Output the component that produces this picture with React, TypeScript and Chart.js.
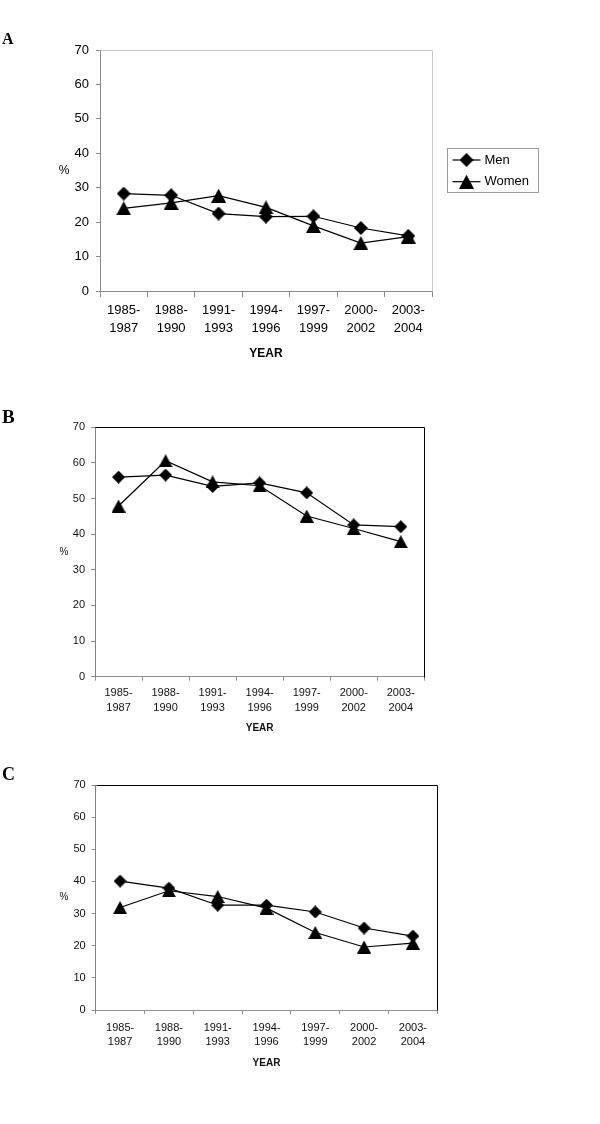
import React, { useEffect, useRef } from 'react';
import { Chart, registerables } from 'chart.js';

Chart.register(...registerables);

// ---- data ----
const categories: string[][] = [
  ['1985-', '1987'],
  ['1988-', '1990'],
  ['1991-', '1993'],
  ['1994-', '1996'],
  ['1997-', '1999'],
  ['2000-', '2002'],
  ['2003-', '2004'],
];
const seriesNames = ['Men', 'Women'];
const yMin = 0;
const yMax = 70;
const yStep = 10;

const menA = [28.3, 27.8, 22.5, 21.6, 21.7, 18.3, 16.0];
const womenA = [24.0, 25.6, 27.7, 24.3, 18.9, 13.9, 15.8];
const menB = [56.0, 56.6, 53.4, 54.4, 51.6, 42.6, 42.1];
const womenB = [47.9, 60.6, 54.7, 53.6, 45.1, 41.6, 37.9];
const menC = [40.1, 37.9, 32.6, 32.6, 30.5, 25.5, 23.0];
const womenC = [31.9, 37.1, 35.3, 31.7, 24.1, 19.6, 20.8];

const FONT = '"Liberation Sans", Arial, sans-serif';

function makeMarker(shape: 'diamond' | 'triangle', w: number, h: number): HTMLCanvasElement {
  const c = document.createElement('canvas');
  c.width = w;
  c.height = h;
  const ctx = c.getContext('2d')!;
  ctx.fillStyle = '#000';
  ctx.beginPath();
  if (shape === 'diamond') {
    ctx.moveTo(w / 2, 0);
    ctx.lineTo(w, h / 2);
    ctx.lineTo(w / 2, h);
    ctx.lineTo(0, h / 2);
  } else {
    ctx.moveTo(w / 2, 0);
    ctx.lineTo(w, h);
    ctx.lineTo(0, h);
  }
  ctx.closePath();
  ctx.fill();
  return c;
}

type Panel = {
  letter: string;
  letterSize: number;
  letterBaseline: number;
  canvasTop: number;
  canvasHeight: number;
  area: { left: number; top: number; right: number; bottom: number };
  men: number[];
  women: number[];
  diamondSize: number;
  triW: number;
  triH: number;
  tickFont: number;
  tickLineHeight: number;
  xTickLen: number;
  xPad: number;
  yTickLen: number;
  yPad: number;
  yearSize: number;
  yearOffset: number;
  pctSize: number;
  frameColor: string;
  leftColor: string;
  bottomColor: string;
  tickColor: string;
  textColor: string;
  legend: boolean;
};

const panels: Panel[] = [
  {
    letter: 'A', letterSize: 16, letterBaseline: 44, canvasTop: 0, canvasHeight: 370,
    area: { left: 100, top: 50, right: 432, bottom: 291 },
    men: menA, women: womenA, diamondSize: 14, triW: 15, triH: 14,
    tickFont: 13, tickLineHeight: 1.4, xTickLen: 6, xPad: 4,
    yTickLen: 4, yPad: 7, yearSize: 12, yearOffset: 62.5, pctSize: 12,
    frameColor: '#c8c8c8', leftColor: '#8a8a8a', bottomColor: '#8a8a8a', tickColor: '#8a8a8a',
    textColor: '#000', legend: true,
  },
  {
    letter: 'B', letterSize: 19, letterBaseline: 52.5, canvasTop: 370, canvasHeight: 370,
    area: { left: 95, top: 57.3, right: 424.3, bottom: 306.7 },
    men: menB, women: womenB, diamondSize: 13, triW: 14, triH: 13,
    tickFont: 11, tickLineHeight: 1.36, xTickLen: 4, xPad: 5,
    yTickLen: 4, yPad: 6, yearSize: 10, yearOffset: 51.3, pctSize: 10,
    frameColor: '#000', leftColor: '#808080', bottomColor: '#909090', tickColor: '#909090',
    textColor: '#111', legend: false,
  },
  {
    letter: 'C', letterSize: 18, letterBaseline: 40, canvasTop: 740, canvasHeight: 384,
    area: { left: 95.7, top: 45, right: 437.3, bottom: 270 },
    men: menC, women: womenC, diamondSize: 13, triW: 14, triH: 13,
    tickFont: 11, tickLineHeight: 1.36, xTickLen: 4, xPad: 6,
    yTickLen: 4, yPad: 6, yearSize: 10, yearOffset: 53, pctSize: 10,
    frameColor: '#000', leftColor: '#808080', bottomColor: '#909090', tickColor: '#909090',
    textColor: '#111', legend: false,
  },
];

function PanelChart({ p }: { p: Panel }) {
  const ref = useRef<HTMLCanvasElement | null>(null);
  useEffect(() => {
    const canvas = ref.current!;
    const W = 600;
    const H = p.canvasHeight;
    const diamond = makeMarker('diamond', p.diamondSize, p.diamondSize);
    const triangle = makeMarker('triangle', p.triW, p.triH);

    const extras = {
      id: 'extras',
      beforeDatasetsDraw(chart: any) {
        const { ctx, chartArea: a } = chart;
        ctx.save();
        ctx.strokeStyle = p.frameColor;
        ctx.lineWidth = 1;
        ctx.beginPath();
        ctx.moveTo(Math.round(a.left) + 0.5, Math.round(a.top) + 0.5);
        ctx.lineTo(Math.round(a.right) + 0.5, Math.round(a.top) + 0.5);
        ctx.lineTo(Math.round(a.right) + 0.5, Math.round(a.bottom) + 0.5);
        ctx.stroke();
        ctx.restore();
      },
      afterDraw(chart: any) {
        const { ctx, chartArea: a } = chart;
        ctx.save();
        // panel letter
        ctx.fillStyle = '#000';
        ctx.font = `bold ${p.letterSize}px "Liberation Serif", "Times New Roman", serif`;
        ctx.textAlign = 'left';
        ctx.textBaseline = 'alphabetic';
        ctx.fillText(p.letter, 2, p.letterBaseline);
        // % label
        ctx.fillStyle = p.textColor;
        ctx.font = `${p.pctSize}px ${FONT}`;
        ctx.textAlign = 'center';
        ctx.textBaseline = 'middle';
        ctx.fillText('%', 64, (a.top + a.bottom) / 2);
        // YEAR
        ctx.font = `bold ${p.yearSize}px ${FONT}`;
        ctx.fillText('YEAR', (a.left + a.right) / 2, a.bottom + p.yearOffset);
        // legend
        if (p.legend) {
          const bx = a.right + 14.5;
          const by = 147.5;
          const bw = 91;
          const bh = 44;
          ctx.strokeStyle = '#9a9a9a';
          ctx.lineWidth = 1;
          ctx.strokeRect(Math.round(bx) + 0.5, Math.round(by) + 0.5, bw, bh);
          const markers = [diamond, triangle];
          chart.data.datasets.forEach((ds: any, i: number) => {
            const y = 160 + i * 21.7;
            ctx.strokeStyle = '#000';
            ctx.lineWidth = 1.2;
            ctx.beginPath();
            ctx.moveTo(bx + 6, y);
            ctx.lineTo(bx + 34, y);
            ctx.stroke();
            const m = markers[i];
            ctx.drawImage(m, bx + 20 - m.width / 2, y - m.height / 2);
            ctx.fillStyle = '#000';
            ctx.font = `13px ${FONT}`;
            ctx.textAlign = 'left';
            ctx.textBaseline = 'middle';
            ctx.fillText(ds.label, bx + 38, y);
          });
        }
        ctx.restore();
      },
    };

    const chart = new Chart(canvas, {
      type: 'line',
      data: {
        labels: categories,
        datasets: [
          {
            label: seriesNames[0],
            data: p.men,
            borderColor: '#000',
            backgroundColor: '#000',
            borderWidth: 1.2,
            pointStyle: diamond,
            tension: 0,
          },
          {
            label: seriesNames[1],
            data: p.women,
            borderColor: '#000',
            backgroundColor: '#000',
            borderWidth: 1.2,
            pointStyle: triangle,
            tension: 0,
          },
        ],
      },
      options: {
        responsive: false,
        animation: false,
        devicePixelRatio: 1,
        layout: {
          padding: {
            left: 0,
            top: p.area.top,
            right: W - p.area.right,
            bottom: 0,
          },
        },
        plugins: {
          legend: { display: false },
          tooltip: { enabled: false },
          title: { display: false },
        },
        scales: {
          x: {
            type: 'category',
            offset: true,
            grid: {
              offset: true,
              drawOnChartArea: false,
              drawTicks: true,
              tickLength: p.xTickLen,
              color: p.tickColor,
            },
            border: { display: true, color: p.bottomColor, width: 1 },
            ticks: {
              color: p.textColor,
              font: { family: FONT, size: p.tickFont, lineHeight: p.tickLineHeight },
              padding: p.xPad,
              maxRotation: 0,
              minRotation: 0,
              autoSkip: false,
            },
            afterFit(scale: any) {
              scale.height = H - p.area.bottom;
            },
          },
          y: {
            min: yMin,
            max: yMax,
            grid: {
              drawOnChartArea: false,
              drawTicks: true,
              tickLength: p.yTickLen,
              color: p.tickColor,
            },
            border: { display: true, color: p.leftColor, width: 1 },
            ticks: {
              stepSize: yStep,
              color: p.textColor,
              font: { family: FONT, size: p.tickFont },
              padding: p.yPad,
            },
            afterFit(scale: any) {
              scale.width = p.area.left;
            },
          },
        },
      },
      plugins: [extras],
    });
    return () => chart.destroy();
  }, [p]);

  return (
    <canvas
      ref={ref}
      width={600}
      height={p.canvasHeight}
      style={{ position: 'absolute', left: 0, top: p.canvasTop, width: 600, height: p.canvasHeight, display: 'block' }}
    />
  );
}

export default function App() {
  return (
    <div style={{ position: 'absolute', left: 0, top: 0, width: 600, height: 1124, background: '#fff' }}>
      {panels.map((p) => (
        <PanelChart key={p.letter} p={p} />
      ))}
    </div>
  );
}
